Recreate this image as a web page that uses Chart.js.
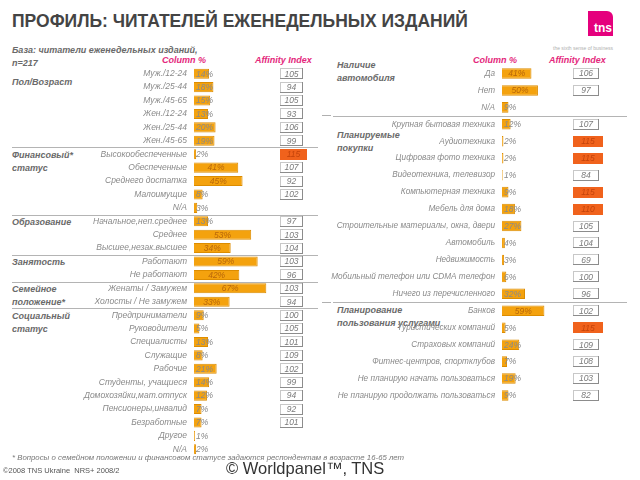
<!DOCTYPE html>
<html>
<head>
<meta charset="utf-8">
<script src="https://cdn.jsdelivr.net/npm/chart.js@4.4.1/dist/chart.umd.min.js"></script>
<style>
  body { margin: 0; width: 640px; height: 480px; background: #fff; position: relative; overflow: hidden;
         font-family: "Liberation Sans", Arial, sans-serif; }
  .t { position: absolute; white-space: nowrap; line-height: 1; }
  .grp { font-size: 9px; font-weight: bold; font-style: italic; color: #6a6a6a; line-height: 12.5px; }
  .hdr { font-size: 9px; font-weight: bold; font-style: italic; color: #e4287c; }
  .stub { position: absolute; width: 9px; height: 1px; background: #b0b0b0; }
  canvas { position: absolute; }
</style>
</head>
<body>
<div class="t" style="left:12px;top:13px;font-size:17.5px;font-weight:bold;color:#444;">ПРОФИЛЬ: ЧИТАТЕЛЕЙ ЕЖЕНЕДЕЛЬНЫХ ИЗДАНИЙ</div>
<div class="t" style="left:588px;top:11px;width:25px;height:25px;background:#e5007d;border-top-right-radius:6px;"></div>
<div class="t" style="left:594px;top:22px;font-size:12px;font-weight:bold;color:#fff;">tns</div>
<div class="t" style="left:553px;top:46px;font-size:5px;color:#b0b0b0;">the sixth sense of business</div>

<div class="t grp" style="left:12px;top:44px;color:#6a6a6a;">База: читатели еженедельных изданий,<br>n=217</div>
<div class="t hdr" style="left:162px;top:56px;">Column %</div>
<div class="t hdr" style="left:255px;top:56px;">Affinity Index</div>
<div class="t hdr" style="left:473px;top:56px;">Column %</div>
<div class="t hdr" style="left:549px;top:56px;">Affinity Index</div>

<div class="t grp" style="left:12px;top:76px;">Пол/Возраст</div>
<div class="t grp" style="left:12px;top:149px;">Финансовый*<br>статус</div>
<div class="t grp" style="left:12px;top:216px;">Образование</div>
<div class="t grp" style="left:12px;top:256px;">Занятость</div>
<div class="t grp" style="left:12px;top:283px;">Семейное<br>положение*</div>
<div class="t grp" style="left:12px;top:310px;">Социальный<br>статус</div>

<div class="t grp" style="left:337px;top:59px;">Наличие<br>автомобиля</div>
<div class="t grp" style="left:337px;top:129px;">Планируемые<br>покупки</div>
<div class="t grp" style="left:337px;top:304px;">Планирование<br>пользования услугами</div>

<div class="stub" style="left:322px;top:115px;"></div>
<div class="stub" style="left:322px;top:302px;"></div>

<canvas id="left" width="330" height="389" style="left:0;top:67px;"></canvas>
<canvas id="right" width="310" height="339" style="left:330px;top:65px;"></canvas>

<div class="t" style="left:12px;top:454px;font-size:7.8px;font-style:italic;color:#777;">* Вопросы о семейном положении и финансовом статусе задаются респондентам в возрасте 16-65 лет</div>
<div class="t" style="left:3px;top:467px;font-size:7.5px;color:#555;">©2008 TNS Ukraine&nbsp; NRS+ 2008/2</div>
<div class="t" style="left:226px;top:460px;font-size:16.5px;color:#333;">© Worldpanel™, TNS</div>

<script>
// Левая панель: социально-демографический профиль
const leftLabels = [
  "Муж./12-24", "Муж./25-44", "Муж./45-65", "Жен./12-24", "Жен./25-44", "Жен./45-65",
  "Высокообеспеченные", "Обеспеченные", "Среднего достатка", "Малоимущие", "N/A",
  "Начальное,неп.среднее", "Среднее", "Высшее,незак.высшее",
  "Работают", "Не работают",
  "Женаты / Замужем", "Холосты / Не замужем",
  "Предприниматели", "Руководители", "Специалисты", "Служащие", "Рабочие",
  "Студенты, учащиеся", "Домохозяйки,мат.отпуск", "Пенсионеры,инвалид", "Безработные", "Другое", "N/A"
];
const leftValues = [14, 18, 15, 13, 20, 19, 2, 41, 45, 8, 3, 13, 53, 34, 59, 42, 67, 33,
  9, 5, 13, 8, 21, 14, 12, 7, 7, 1, 2];
const leftIndex = [105, 94, 105, 93, 106, 99, 115, 107, 92, 102, null, 97, 103, 104, 103, 96, 103, 94,
  100, 105, 101, 109, 102, 99, 94, 92, 101, null, null];
const leftGroupEnds = [5, 10, 13, 15, 17];

// Правая панель: автомобиль, покупки, услуги
const rightLabels = [
  "Да", "Нет", "N/A",
  "Крупная бытовая техника", "Аудиотехника", "Цифровая фото техника", "Видеотехника, телевизор",
  "Компьютерная техника", "Мебель для дома", "Строительные материалы, окна, двери", "Автомобиль",
  "Недвижимость", "Мобильный телефон или CDMA телефон", "Ничего из перечисленного",
  "Банков", "Туристических компаний", "Страховых компаний", "Фитнес-центров, спортклубов",
  "Не планирую начать пользоваться", "Не планирую продолжать пользоваться"
];
const rightValues = [41, 50, 9, 12, 2, 2, 1, 9, 18, 27, 4, 3, 6, 32, 59, 5, 24, 7, 19, 9];
const rightIndex = [106, 97, null, 107, 115, 115, 84, 115, 110, 105, 104, 69, 100, 96,
  102, 115, 109, 108, 103, 82];
const rightGroupEnds = [2, 13];

const FONT = '"Liberation Sans", Arial, sans-serif';

// подписи значений на столбиках
const valueLabels = {
  id: "valueLabels",
  afterDatasetsDraw(chart) {
    const ctx = chart.ctx;
    const meta = chart.getDatasetMeta(0);
    const data = chart.data.datasets[0].data;
    ctx.save();
    ctx.font = "italic 8.5px " + FONT;
    ctx.textBaseline = "middle";
    meta.data.forEach((bar, i) => {
      const txt = data[i] + "%";
      const w = ctx.measureText(txt).width;
      const barW = bar.x - bar.base;
      if (barW > w + 6) {
        ctx.fillStyle = "#b8670a";
        ctx.textAlign = "center";
        ctx.fillText(txt, (bar.x + bar.base) / 2, bar.y + 0.5);
      } else {
        ctx.fillStyle = "#8a8a8a";
        ctx.textAlign = "left";
        ctx.fillText(txt, bar.base + 2, bar.y + 0.5);
      }
    });
    ctx.restore();
  }
};

// рамки с индексом соответствия и разделители групп
const affinityBoxes = {
  id: "affinityBoxes",
  afterDraw(chart, args, opts) {
    const ctx = chart.ctx;
    const y = chart.scales.y;
    ctx.save();
    // разделители
    ctx.strokeStyle = "#b4b4b4";
    ctx.lineWidth = 1;
    opts.groupEnds.forEach(i => {
      const yy = Math.round((y.getPixelForValue(i) + y.getPixelForValue(i + 1)) / 2) + 0.5;
      ctx.beginPath();
      ctx.moveTo(opts.lineFrom, yy);
      ctx.lineTo(opts.lineTo, yy);
      ctx.stroke();
    });
    ctx.font = "italic 8.5px " + FONT;
    ctx.textBaseline = "middle";
    ctx.textAlign = "center";
    opts.values.forEach((v, i) => {
      if (v === null) return;
      const cy = y.getPixelForValue(i);
      const top = Math.round(cy - 5.5);
      const x0 = opts.boxX;
      if (v >= 110) {
        const w = opts.boxW + 4;
        ctx.fillStyle = "#f0621c";
        ctx.fillRect(x0, top, w, 11);
        ctx.fillStyle = "#c4430a";
        ctx.fillText(String(v), x0 + w / 2, cy + 0.5);
      } else {
        ctx.fillStyle = "#fff";
        ctx.fillRect(x0, top, opts.boxW, 11);
        ctx.strokeStyle = "#c8c8c8";
        ctx.strokeRect(x0 + 0.5, top + 0.5, opts.boxW - 1, 10);
        ctx.strokeStyle = "#8c8c8c";
        ctx.beginPath();
        ctx.moveTo(x0 + opts.boxW - 0.5, top);
        ctx.lineTo(x0 + opts.boxW - 0.5, top + 11);
        ctx.moveTo(x0, top + 10.5);
        ctx.lineTo(x0 + opts.boxW, top + 10.5);
        ctx.stroke();
        ctx.fillStyle = "#7a7a7a";
        ctx.fillText(String(v), x0 + opts.boxW / 2, cy + 0.5);
      }
    });
    ctx.restore();
  }
};

function makeChart(id, labels, values, index, groupEnds, axisW, xMax, barPct, labelSize, box) {
  return new Chart(document.getElementById(id), {
    type: "bar",
    data: {
      labels: labels,
      datasets: [{
        data: values,
        backgroundColor: "#f4a20e",
        borderColor: "#dc8c00",
        borderWidth: 1,
        categoryPercentage: 1,
        barPercentage: barPct
      }]
    },
    options: {
      indexAxis: "y",
      responsive: false,
      animation: false,
      layout: { padding: 0, autoPadding: false },
      scales: {
        x: { display: false, min: 0, max: xMax },
        y: {
          grid: { display: false, drawTicks: false },
          border: { display: false },
          ticks: {
            autoSkip: false,
            padding: 7,
            color: "#8a8a8a",
            font: { family: FONT, size: labelSize, style: "italic" }
          },
          afterFit(scale) {
            // фиксированная ширина оси, без отступов сверху/снизу
            scale.width = axisW;
            scale.paddingTop = 0;
            scale.paddingBottom = 0;
          }
        }
      },
      plugins: {
        legend: { display: false },
        tooltip: { enabled: false },
        affinityBoxes: {
          values: index,
          groupEnds: groupEnds,
          boxX: box.x,
          boxW: box.w,
          lineFrom: box.lineFrom,
          lineTo: box.lineTo
        }
      }
    },
    plugins: [valueLabels, affinityBoxes]
  });
}

makeChart("left", leftLabels, leftValues, leftIndex, leftGroupEnds, 194, 126, 0.75, 8.5,
  { x: 280, w: 23, lineFrom: 12, lineTo: 318 });
makeChart("right", rightLabels, rightValues, rightIndex, rightGroupEnds, 172, 192, 0.62, 8.2,
  { x: 243, w: 26, lineFrom: 3, lineTo: 297 });
</script>
</body>
</html>
